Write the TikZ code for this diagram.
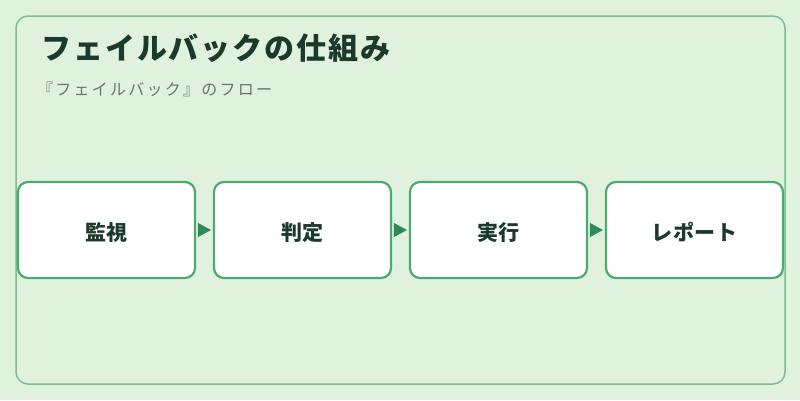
\documentclass[tikz,border=0pt]{standalone}
\usepackage{fontspec}
\setmainfont{Noto Sans CJK JP}
\newfontfamily\cjk{Noto Sans CJK JP}
\usetikzlibrary{arrows.meta}
\definecolor{bgc}{RGB}{224,242,222}
\definecolor{panelc}{RGB}{122,190,145}
\definecolor{boxc}{RGB}{76,170,110}
\definecolor{arrc}{RGB}{46,139,87}
\definecolor{titlec}{RGB}{28,58,44}
\definecolor{subc}{RGB}{100,120,105}
\tikzset{
  stepbox/.style={draw=boxc, line width=2.2pt, fill=white, rounded corners=10pt,
    minimum width=177pt, minimum height=96pt, inner sep=0pt,
    text height=24pt, text depth=3pt,
    font=\cjk\fontsize{21pt}{24pt}\selectfont\bfseries\addfontfeature{LetterSpace=3}, text=titlec},
  flow/.style={draw=arrc, line width=0.5pt, -{Triangle[length=13pt,width=14pt]},
    shorten <=2pt, shorten >=2pt}
}
\begin{document}
\begin{tikzpicture}[x=1pt,y=-1pt]
\fill[bgc] (0,0) rectangle (800,400);
\useasboundingbox (0,0) rectangle (800,400);
\draw[panelc, line width=1.5pt, rounded corners=12pt] (16,16) rectangle (785,384);
\node[anchor=base west, inner sep=0pt, text=titlec,
  font=\cjk\fontsize{30pt}{34pt}\selectfont\bfseries\addfontfeature{LetterSpace=6.5}] (title) at (41,59) {フェイルバックの仕組み};
\node[anchor=base west, inner sep=0pt, text=subc,
  font=\cjk\fontsize{16pt}{20pt}\selectfont\addfontfeature{LetterSpace=14}] (sub) at (37,95) {『フェイルバック』のフロー};
\node[stepbox] (b1) at (106.5,230) {監視};
\node[stepbox] (b2) at (302.5,230) {判定};
\node[stepbox] (b3) at (498.5,230) {実行};
\node[stepbox] (b4) at (694.5,230) {レポート};
\draw[flow] (b1.east) -- (b2.west);
\draw[flow] (b2.east) -- (b3.west);
\draw[flow] (b3.east) -- (b4.west);
\end{tikzpicture}
\end{document}
